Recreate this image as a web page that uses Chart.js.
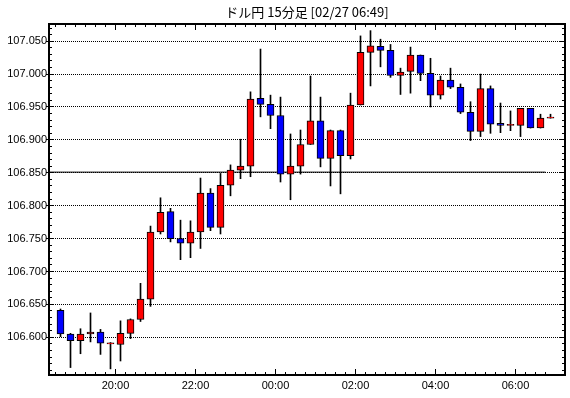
<!DOCTYPE html>
<html>
<head>
<meta charset="utf-8">
<script src="https://cdn.jsdelivr.net/npm/chart.js@4"></script>
<style>
  body { margin: 0; background: #fff; }
  canvas { display: block; }
</style>
</head>
<body>
<canvas id="grafico" width="570" height="398"></canvas>
<script>
const title = 'ドル円 15分足 [02/27 06:49]';

// 15分足の開始時刻
const times = [
    '18:30', '18:45', '19:00', '19:15', '19:30', '19:45', '20:00', '20:15', '20:30', '20:45',
    '21:00', '21:15', '21:30', '21:45', '22:00', '22:15', '22:30', '22:45', '23:00', '23:15',
    '23:30', '23:45', '00:00', '00:15', '00:30', '00:45', '01:00', '01:15', '01:30', '01:45',
    '02:00', '02:15', '02:30', '02:45', '03:00', '03:15', '03:30', '03:45', '04:00', '04:15',
    '04:30', '04:45', '05:00', '05:15', '05:30', '05:45', '06:00', '06:15', '06:30', '06:45'
];
const opens = [
    106.641, 106.605, 106.595, 106.605, 106.608, 106.590, 106.589, 106.606, 106.627, 106.658,
    106.760, 106.791, 106.750, 106.743, 106.760, 106.819, 106.767, 106.831, 106.854, 106.860,
    106.963, 106.954, 106.937, 106.848, 106.860, 106.893, 106.929, 106.872, 106.914, 106.876,
    106.953, 107.033, 107.042, 107.036, 106.998, 107.004, 107.029, 107.001, 106.968, 106.991,
    106.980, 106.942, 106.913, 106.978, 106.925, 106.922, 106.922, 106.948, 106.918, 106.933
];
const highs = [
    106.643, 106.606, 106.613, 106.637, 106.612, 106.592, 106.625, 106.628, 106.682, 106.769,
    106.812, 106.796, 106.778, 106.777, 106.842, 106.826, 106.849, 106.862, 106.901, 106.973,
    107.038, 106.968, 106.965, 106.909, 106.915, 106.997, 106.965, 106.915, 106.915, 106.971,
    107.058, 107.066, 107.053, 107.045, 107.009, 107.041, 107.029, 107.024, 106.997, 107.009,
    106.985, 106.958, 107.000, 106.982, 106.956, 106.944, 106.948, 106.948, 106.939, 106.939
];
const lows = [
    106.601, 106.554, 106.575, 106.593, 106.574, 106.552, 106.564, 106.598, 106.624, 106.647,
    106.757, 106.745, 106.718, 106.721, 106.735, 106.762, 106.757, 106.815, 106.841, 106.844,
    106.935, 106.917, 106.836, 106.809, 106.848, 106.893, 106.859, 106.830, 106.818, 106.871,
    106.953, 106.982, 107.011, 106.995, 106.969, 106.971, 106.990, 106.950, 106.962, 106.978,
    106.940, 106.899, 106.905, 106.910, 106.911, 106.914, 106.905, 106.918, 106.918, 106.933
];
const closes = [
    106.605, 106.595, 106.605, 106.608, 106.591, 106.590, 106.606, 106.627, 106.658, 106.760,
    106.790, 106.750, 106.743, 106.760, 106.819, 106.767, 106.831, 106.854, 106.860, 106.962,
    106.954, 106.937, 106.848, 106.860, 106.893, 106.929, 106.872, 106.914, 106.876, 106.953,
    107.033, 107.043, 107.036, 106.998, 107.003, 107.029, 107.001, 106.968, 106.991, 106.980,
    106.942, 106.913, 106.978, 106.924, 106.922, 106.922, 106.948, 106.918, 106.933, 106.933
];

// 基準線
const refLevel = 106.851;
const refEnd = '06:45';

const yTickLabels = ['106.600', '106.650', '106.700', '106.750', '106.800', '106.850', '106.900', '106.950', '107.000', '107.050'];
const xTickLabels = ['20:00', '22:00', '00:00', '02:00', '04:00', '06:00'];

const xMin = 20.25, xMax = 794.25;
const yMin = 106.5427, yMax = 107.0761;

// 18:00 からの経過分
function toMin(t) {
    const [h, m] = t.split(':').map(Number);
    return (h < 18 ? h + 24 : h) * 60 + m - 18 * 60;
}

const bodies = times.map((t, i) => ({ x: toMin(t) + 7.5, y: [opens[i], closes[i]] }));
const wicks = times.map((t, i) => ({ x: toMin(t) + 7.5, y: [lows[i], highs[i]] }));
const bodyColors = opens.map((o, i) => closes[i] >= o ? '#ff0000' : '#0000ff');

const frame = {
    id: 'frame',
    afterDraw(chart) {
        const { ctx, chartArea: a, scales: { x, y } } = chart;
        ctx.save();
        ctx.fillStyle = '#000';

        // 縦軸の目盛り
        for (let k = 0; ; k++) {
            const v = 106.55 + k * 0.01;
            if (v > yMax) break;
            if (v < yMin) continue;
            const py = Math.round(y.getPixelForValue(v) - 0.5);
            const major = yTickLabels.some(t => Math.abs(parseFloat(t) - v) < 0.0005);
            const len = major ? 5 : 3;
            ctx.fillRect(a.left, py, len, 1);
            ctx.fillRect(a.right - len, py, len, 1);
            if (major) ctx.fillRect(a.left - 3, py, 3, 1);
        }

        // 横軸の目盛り
        times.forEach(t => {
            const px = Math.floor(x.getPixelForValue(toMin(t)));
            const len = xTickLabels.includes(t) ? 6 : 3;
            ctx.fillRect(px, a.bottom - len, 1, len);
            ctx.fillRect(px, a.top, 1, len);
        });

        ctx.lineWidth = 2;
        ctx.strokeStyle = '#000';
        ctx.strokeRect(a.left, a.top, a.right - a.left, a.bottom - a.top);

        ctx.font = '13px "Noto Sans CJK JP"';
        ctx.textAlign = 'center';
        ctx.textBaseline = 'middle';
        ctx.fillText(title, (a.left + a.right) / 2, 12);
        ctx.restore();
    }
};

const ctx = document.getElementById('grafico').getContext('2d');
const chart = new Chart(ctx, {
    data: {
        datasets: [
            {
                type: 'bar',
                data: bodies,
                backgroundColor: bodyColors,
                borderColor: '#000',
                borderWidth: 1,
                borderSkipped: false,
                barThickness: 7,
                minBarLength: 1,
                grouped: false,
                order: 1
            },
            {
                type: 'bar',
                data: wicks,
                backgroundColor: '#000',
                borderWidth: 0,
                barThickness: 1,
                grouped: false,
                order: 2
            },
            {
                type: 'line',
                data: [{ x: xMin, y: refLevel }, { x: toMin(refEnd), y: refLevel }],
                borderColor: '#000',
                borderWidth: 1,
                pointRadius: 0,
                order: 3
            }
        ]
    },
    options: {
        responsive: false,
        animation: false,
        events: [],
        layout: { padding: { top: 24, right: 5, left: 0, bottom: 0 } },
        plugins: {
            legend: { display: false },
            tooltip: { enabled: false },
            title: { display: false }
        },
        scales: {
            x: {
                type: 'linear',
                min: xMin,
                max: xMax,
                offset: false,
                afterBuildTicks: scale => {
                    scale.ticks = xTickLabels.map(t => ({ value: toMin(t) }));
                },
                afterFit: scale => { scale.height = 23; },
                grid: { display: false, drawTicks: false, offset: false },
                border: { display: false },
                ticks: {
                    autoSkip: false,
                    maxRotation: 0,
                    padding: 4,
                    color: '#000',
                    font: { family: 'Liberation Sans', size: 11 },
                    callback: v => xTickLabels.find(t => toMin(t) === v)
                }
            },
            y: {
                type: 'linear',
                min: yMin,
                max: yMax,
                afterBuildTicks: scale => {
                    scale.ticks = yTickLabels.map(t => ({ value: parseFloat(t) }));
                },
                afterFit: scale => { scale.width = 49; },
                grid: { color: '#000', lineWidth: 1, drawTicks: false },
                border: { display: false, dash: [1, 1] },
                ticks: {
                    padding: 2,
                    color: '#000',
                    font: { family: 'Liberation Sans', size: 11 },
                    callback: v => v.toFixed(3)
                }
            }
        }
    },
    plugins: [frame]
});
</script>
</body>
</html>
